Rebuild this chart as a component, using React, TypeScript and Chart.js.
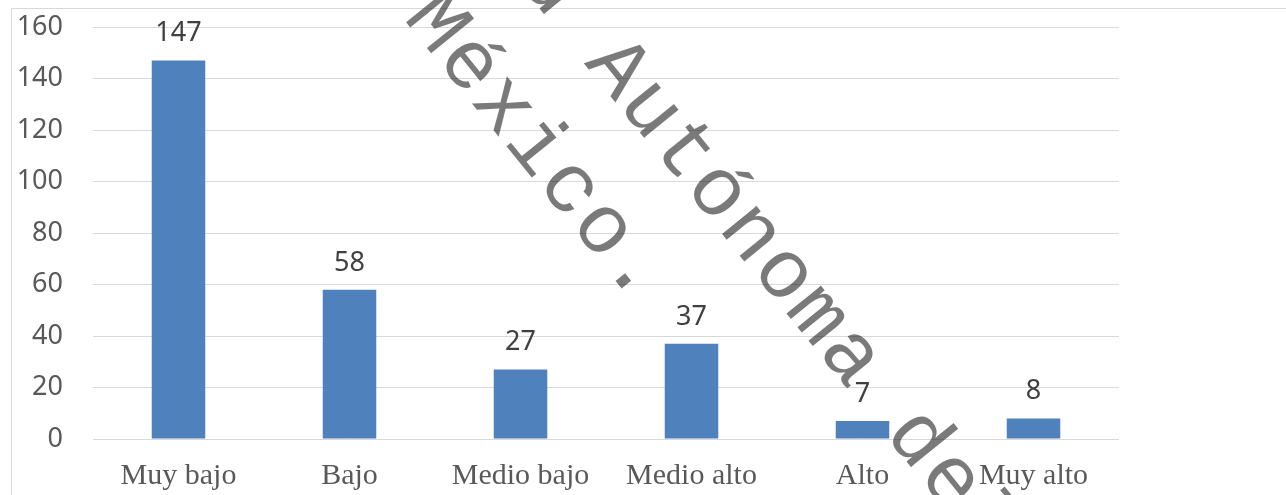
import { useEffect, useRef } from "react";
import { Chart, registerables } from "chart.js";

Chart.register(...registerables);

// Chart data
const categories = ["Muy bajo", "Bajo", "Medio bajo", "Medio alto", "Alto", "Muy alto"];
const counts = [147, 58, 27, 37, 7, 8];
const yMin = 0;
const yMax = 160;
const yStep = 20;

// Diagonal watermark lines
const watermarkLines = ["Universidad Autónoma del", "Estado de México."];

const BAR_COLOR = "#4f81bd";
const GRID_COLOR = "#d9d9d9";
const AXIS_TEXT = "#595959";
const VALUE_TEXT = "#404040";

// Prints each bar's value above it
const valueLabels = {
  id: "valueLabels",
  afterDatasetsDraw(chart: any) {
    const ctx = chart.ctx as CanvasRenderingContext2D;
    const meta = chart.getDatasetMeta(0);
    ctx.save();
    ctx.font = '27px "Noto Sans", sans-serif';
    ctx.fillStyle = VALUE_TEXT;
    ctx.textAlign = "center";
    ctx.textBaseline = "alphabetic";
    meta.data.forEach((bar: any, i: number) => {
      ctx.fillText(String(counts[i]), bar.x, bar.y - 19);
    });
    ctx.restore();
  },
};

// Semi-transparent rotated text laid over the whole chart
const watermark = {
  id: "watermark",
  afterDraw(chart: any) {
    const ctx = chart.ctx as CanvasRenderingContext2D;
    const theta = (51 * Math.PI) / 180;
    const adv = 53;
    const ux = Math.cos(theta) * adv;
    const uy = Math.sin(theta) * adv;
    const nx = -Math.sin(theta);
    const ny = Math.cos(theta);
    const capHalf = 25;
    // anchor glyph index and its centre for each line
    const anchors = [
      { idx: 12, x: 619, y: 67 },
      { idx: 10, x: 438, y: 22 },
    ];
    ctx.save();
    ctx.font = '84px "Liberation Mono", monospace';
    ctx.fillStyle = "rgba(0,0,0,0.52)";
    ctx.textAlign = "center";
    ctx.textBaseline = "alphabetic";
    watermarkLines.forEach((line, li) => {
      const a = anchors[li];
      Array.from(line).forEach((ch, i) => {
        if (ch === " ") return;
        const cx = a.x + (i - a.idx) * ux + capHalf * nx;
        const cy = a.y + (i - a.idx) * uy + capHalf * ny;
        ctx.save();
        ctx.translate(cx, cy);
        ctx.rotate(theta);
        ctx.fillText(ch, 0, 0);
        ctx.restore();
      });
    });
    ctx.restore();
  },
};

export default function App() {
  const canvasRef = useRef<HTMLCanvasElement | null>(null);

  useEffect(() => {
    if (!canvasRef.current) return;
    const chart = new Chart(canvasRef.current, {
      type: "bar",
      data: {
        labels: categories,
        datasets: [
          {
            data: counts,
            backgroundColor: BAR_COLOR,
            borderWidth: 0,
            categoryPercentage: 1,
            barPercentage: 0.313,
          },
        ],
      },
      options: {
        responsive: false,
        maintainAspectRatio: false,
        animation: false,
        layout: { padding: { left: 0, right: 167, top: 27, bottom: 0 } },
        plugins: {
          legend: { display: false },
          tooltip: { enabled: false },
        },
        scales: {
          x: {
            grid: { display: false, drawTicks: false },
            border: { display: false },
            ticks: {
              color: AXIS_TEXT,
              padding: 19,
              font: { family: '"Liberation Serif", serif', size: 30 },
            },
            afterFit: (s: any) => {
              s.height = 56;
              s.paddingLeft = 0;
              s.paddingRight = 0;
            },
          },
          y: {
            min: yMin,
            max: yMax,
            ticks: {
              stepSize: yStep,
              color: AXIS_TEXT,
              padding: 30,
              font: { family: '"Noto Sans", sans-serif', size: 27 },
            },
            grid: { color: GRID_COLOR, lineWidth: 1, drawTicks: false },
            border: { display: false },
            afterFit: (s: any) => {
              s.width = 93;
              s.paddingTop = 0;
              s.paddingBottom = 0;
            },
          },
        },
      },
      plugins: [valueLabels, watermark],
    });
    return () => chart.destroy();
  }, []);

  return (
    <div
      style={{
        position: "fixed",
        left: 0,
        top: 0,
        width: 1286,
        height: 495,
        overflow: "hidden",
        background: "#fff",
      }}
    >
      <div
        style={{
          position: "absolute",
          left: 11,
          top: 8,
          width: 1300,
          height: 500,
          borderLeft: `1px solid ${GRID_COLOR}`,
          borderTop: `1px solid ${GRID_COLOR}`,
        }}
      />
      <canvas
        ref={canvasRef}
        width={1286}
        height={495}
        style={{ position: "absolute", left: 0, top: 0, display: "block" }}
      />
    </div>
  );
}
